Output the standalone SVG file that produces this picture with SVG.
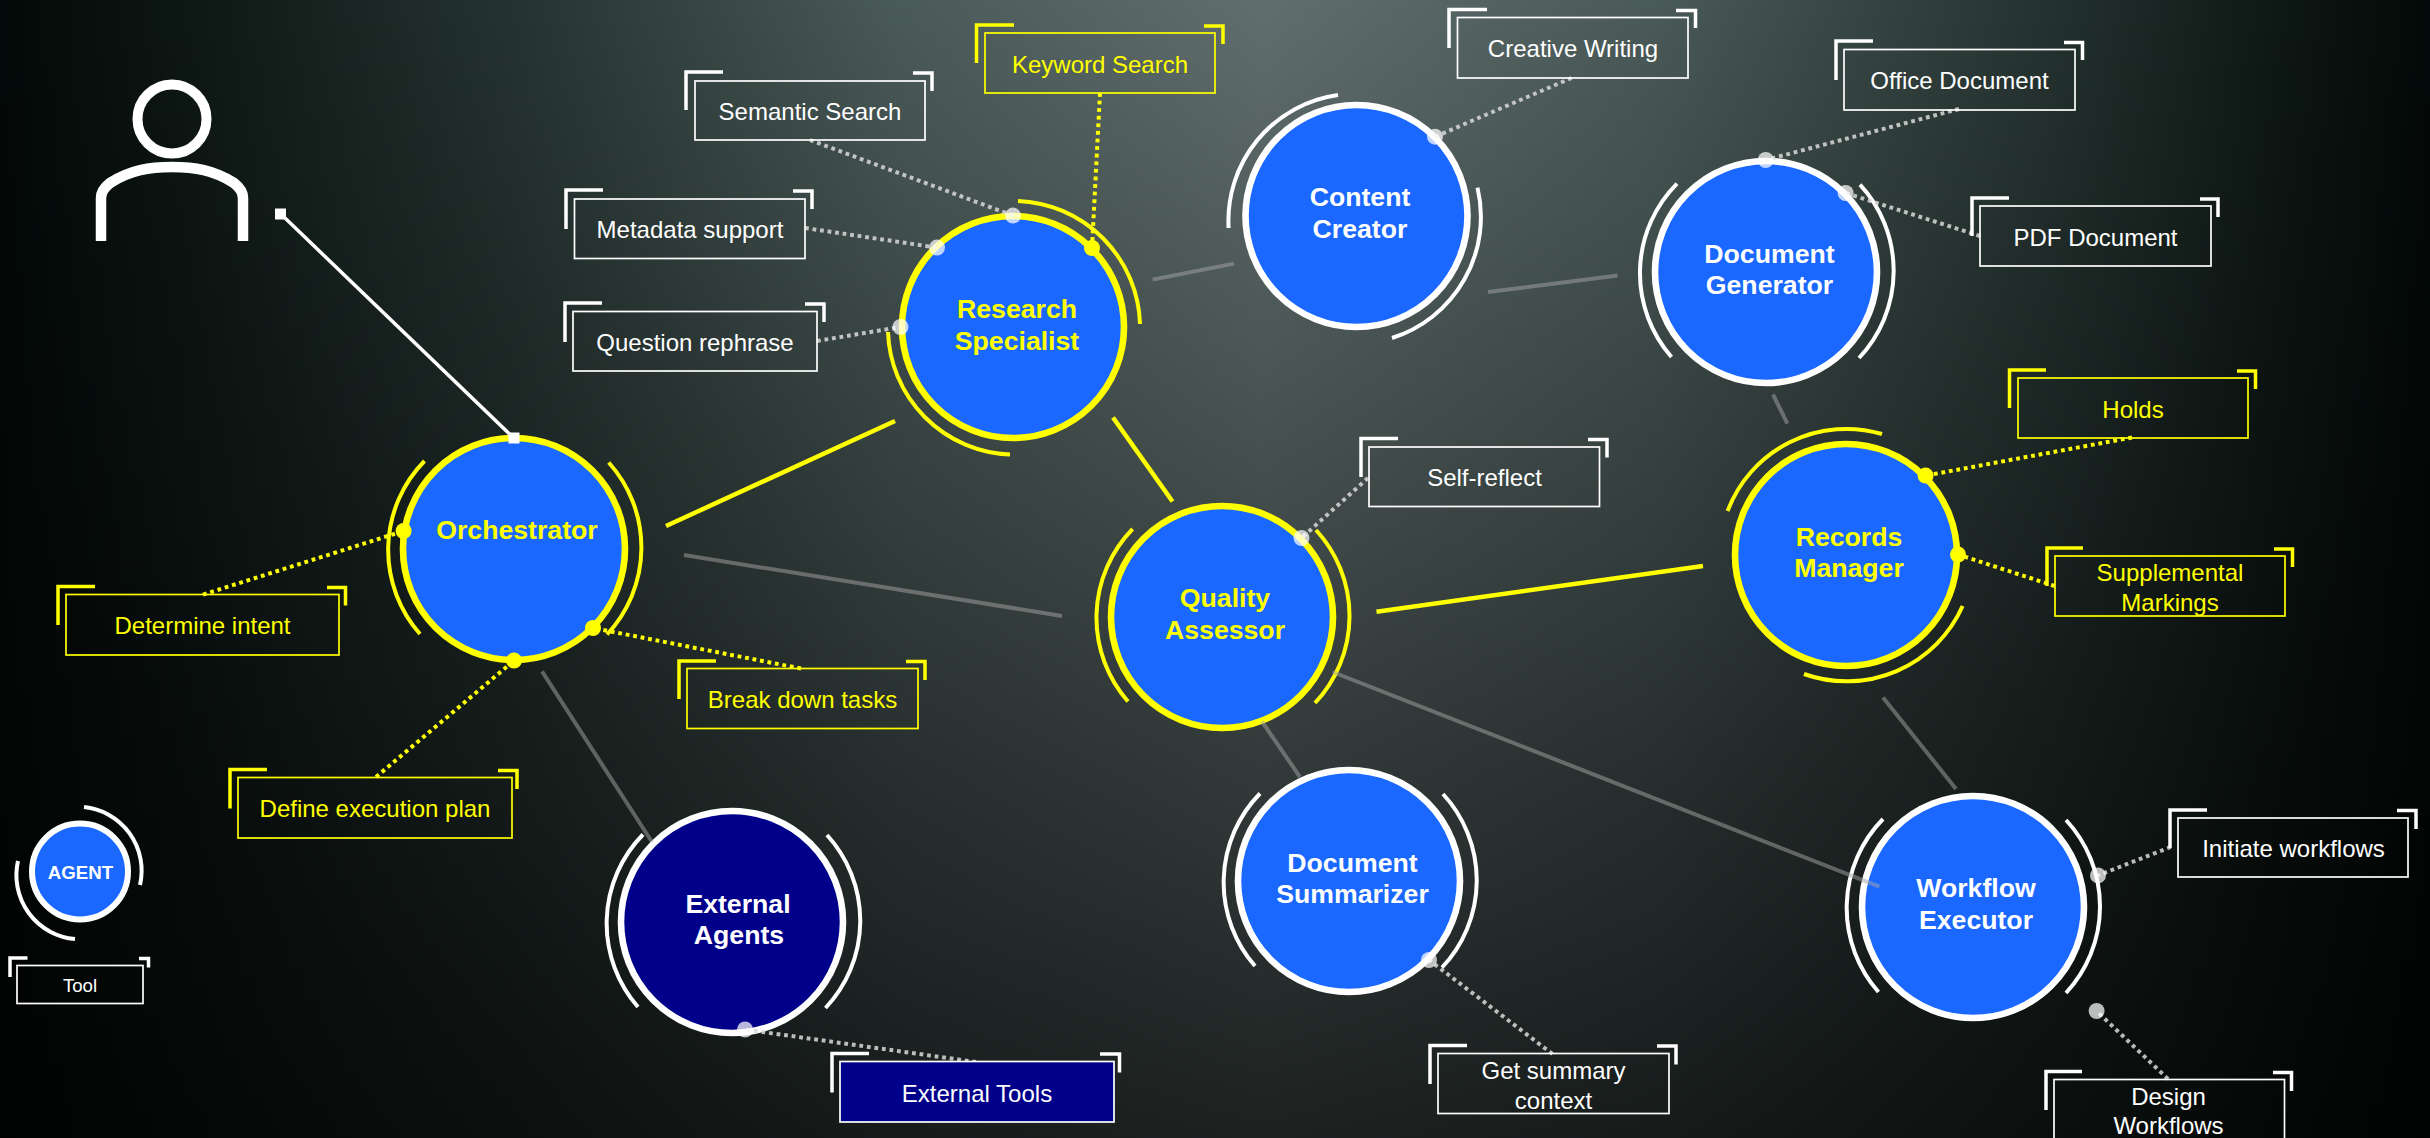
<svg xmlns="http://www.w3.org/2000/svg" width="2430" height="1138" viewBox="0 0 2430 1138">
<style>
text{font-family:"Liberation Sans",Arial,sans-serif;text-anchor:middle}
.n{font-size:26.67px;font-weight:bold}
.l{font-size:24px}
.w{fill:#fff}.y{fill:#ff0}
.cw{fill:#1a68ff;stroke:#fff;stroke-width:6.6}
.cy{fill:#1a68ff;stroke:#ff0;stroke-width:6.6}
.aw{fill:none;stroke:#fff;stroke-width:4}
.ay{fill:none;stroke:#ff0;stroke-width:4}
.bw{fill:none;stroke:#fff;stroke-width:1.7}
.by{fill:none;stroke:#ff0;stroke-width:1.7}
.kw{fill:none;stroke:#fff;stroke-width:3.5}
.ky{fill:none;stroke:#ff0;stroke-width:3.5}
.dw{stroke:#d9d9d9;stroke-width:4;stroke-dasharray:3.8 3.8;opacity:.85}
.dy{stroke:#ff0;stroke-width:4;stroke-dasharray:3.8 3.8}
.sy{stroke:#ff0;stroke-width:4.5}
.sg{stroke:#a6a6a6;stroke-width:4;opacity:.5}
.pw{fill:#fff;opacity:.72}
.py{fill:#ff0}
</style>
<defs>
<linearGradient id="bgx" x1="0" y1="0" x2="1" y2="0">
<stop offset="0" stop-color="#030908"/>
<stop offset=".076" stop-color="#0d1714"/>
<stop offset=".21" stop-color="#253330"/>
<stop offset=".37" stop-color="#4a5a58"/>
<stop offset=".52" stop-color="#606e6d"/>
<stop offset=".68" stop-color="#4a5a58"/>
<stop offset=".84" stop-color="#253330"/>
<stop offset=".94" stop-color="#0d1714"/>
<stop offset="1" stop-color="#030908"/>
</linearGradient>
<linearGradient id="bgy" x1="0" y1="0" x2="0" y2="1">
<stop offset="0" stop-color="#000" stop-opacity="0"/>
<stop offset="1" stop-color="#000" stop-opacity=".7"/>
</linearGradient>
</defs>
<rect id="background" width="2430" height="1138" fill="url(#bgx)"/>
<rect id="background-shade" width="2430" height="1138" fill="url(#bgy)"/>

<g id="user" fill="none" stroke="#fff">
<circle cx="172" cy="119" r="34.5" stroke-width="10"/>
<path stroke-width="10.5" d="M101 241V198Q101 190 110 183C130 170 150 167 172 167C194 167 214 170 234 183Q243 190 243 198V241"/>
</g>

<g id="node-orchestrator">
<circle class="cy" cx="514" cy="549" r="111"/>
<path class="ay" d="M420 634A127 127 0 0 1 424.5 461M608.7 462.5A127 127 0 0 1 607 634.5"/>
<text class="n y" x="517" y="539">Orchestrator</text>
</g>
<g id="node-research">
<circle class="cy" cx="1013" cy="327" r="111"/>
<path class="ay" d="M1018 201A127 127 0 0 1 1140 324M1010 454.5A127 127 0 0 1 888 332"/>
<text class="n y" x="1017" y="317.5">Research</text>
<text class="n y" x="1017" y="349.5">Specialist</text>
</g>
<g id="node-content">
<circle class="cw" cx="1356.5" cy="216" r="111"/>
<path class="aw" d="M1228.6 228A127 127 0 0 1 1338 95M1477.5 187.6A127 127 0 0 1 1392 338"/>
<text class="n w" x="1360" y="206">Content</text>
<text class="n w" x="1360" y="238">Creator</text>
</g>
<g id="node-docgen">
<circle class="cw" cx="1766" cy="272" r="111"/>
<path class="aw" d="M1671.5 357A127 127 0 0 1 1677 183.6M1860 184.7A127 127 0 0 1 1859 358"/>
<text class="n w" x="1769.5" y="262.5">Document</text>
<text class="n w" x="1769.5" y="294">Generator</text>
</g>
<g id="node-records">
<circle class="cy" cx="1846" cy="555" r="111"/>
<path class="ay" d="M1727.6 511A127 127 0 0 1 1882 434M1962.6 606A127 127 0 0 1 1804 674"/>
<text class="n y" x="1849" y="545.5">Records</text>
<text class="n y" x="1849" y="577">Manager</text>
</g>
<g id="node-quality">
<circle class="cy" cx="1222" cy="617" r="111"/>
<path class="ay" d="M1128 701.5A127 127 0 0 1 1132.6 529M1316 530A127 127 0 0 1 1315 703"/>
<text class="n y" x="1225" y="607">Quality</text>
<text class="n y" x="1225" y="639">Assessor</text>
</g>
<g id="node-summarizer">
<circle class="cw" cx="1349" cy="881" r="111"/>
<path class="aw" d="M1255 966A127 127 0 0 1 1260 793.5M1443 794A127 127 0 0 1 1442 967.5"/>
<text class="n w" x="1352.5" y="871.5">Document</text>
<text class="n w" x="1352.5" y="903">Summarizer</text>
</g>
<g id="node-external">
<circle cx="732" cy="922" r="111" fill="#00008b" stroke="#fff" stroke-width="6.6"/>
<path class="aw" d="M638 1007A127 127 0 0 1 643 834.5M827 835A127 127 0 0 1 825.5 1008"/>
<text class="n w" x="738" y="912.5">External</text>
<text class="n w" x="739" y="944">Agents</text>
</g>
<g id="node-workflow">
<circle class="cw" cx="1973" cy="907" r="111"/>
<path class="aw" d="M1878.5 992A127 127 0 0 1 1883 819M2066 820A127 127 0 0 1 2066 993"/>
<text class="n w" x="1976" y="897">Workflow</text>
<text class="n w" x="1976" y="929">Executor</text>
</g>
<g id="legend-agent">
<circle cx="80" cy="871.5" r="48" fill="#1a68ff" stroke="#fff" stroke-width="6"/>
<path class="aw" d="M84 807A64 64 0 0 1 140 885M75 939A64 64 0 0 1 18 861"/>
<text x="80.5" y="879" font-size="18.67" font-weight="bold" fill="#fff">AGENT</text>
</g>

<g id="connectors" fill="none">
<path class="sy" d="M666 526L895 421M1113 417.5L1172.5 501.5M1376.5 611.7L1703 566"/>
<path class="sg" d="M1152.5 279.6L1234 263.6M1488 292L1617.5 275.6M1773 394.5L1787.4 423.6M684 555L1062 616M542 671.4L652 842M1262 721.5L1300 777M1332.6 672L1879.5 886.7M1883 697.5L1956 789"/>
<path stroke="#fff" stroke-width="3.5" d="M285 218L510 434.5"/>
<rect x="275" y="208.5" width="11" height="11" fill="#fff"/>
<rect x="508.5" y="432.5" width="11" height="11" fill="#fff"/>
<path class="dw" d="M810 140L1013 215.6M805 228L937 247.6M817 341L900.5 327M1571.5 78L1435 136.7M1959 109L1765.7 160M1980 236L1845.6 193M1368 478L1301.5 538M976 1062L745 1029.5M1552.5 1054L1429 960M2170.7 847L2098 875.4M2168 1079L2096.6 1011"/>
<path class="dy" d="M1100 93L1092 248M2132 437.5L1925.6 475.6M2054.7 586L1958 554.5M203 594.6L403.6 531M376 777L514 660.6M801 668.5L593 628"/>
<g class="pw">
<circle cx="1013" cy="215.6" r="8"/><circle cx="937" cy="247.6" r="8"/><circle cx="900.5" cy="327" r="8"/><circle cx="1435" cy="136.7" r="8"/><circle cx="1765.7" cy="160" r="8"/><circle cx="1845.6" cy="193" r="8"/><circle cx="1301.5" cy="538" r="8"/><circle cx="1429" cy="960" r="8"/><circle cx="745" cy="1029.5" r="8"/><circle cx="2098" cy="875.4" r="8"/><circle cx="2096.6" cy="1011" r="8"/>
</g>
<g class="py">
<circle cx="1092" cy="248" r="8"/><circle cx="1925.6" cy="475.6" r="8"/><circle cx="1958" cy="554.5" r="8"/><circle cx="403.6" cy="531" r="8"/><circle cx="514" cy="660.6" r="8"/><circle cx="593" cy="628" r="8"/>
</g>
</g>

<g id="label-semantic"><rect class="bw" x="695" y="81" width="230" height="59"/><path class="kw" d="M686 110V72H723M913 73H932V91"/><text class="l w" x="810" y="120">Semantic Search</text></g>
<g id="label-metadata"><rect class="bw" x="574.5" y="199" width="230.5" height="59.5"/><path class="kw" d="M566 229V190H603M793 191H812V209"/><text class="l w" x="690" y="238">Metadata support</text></g>
<g id="label-question"><rect class="bw" x="573" y="311.5" width="244" height="59.5"/><path class="kw" d="M565 342V303H602M805 304H824V322"/><text class="l w" x="695" y="351">Question rephrase</text></g>
<g id="label-keyword"><rect class="by" x="985" y="33" width="230" height="60"/><path class="ky" d="M976.5 63V25H1014M1204 26H1223V44"/><text class="l y" x="1100" y="72.5">Keyword Search</text></g>
<g id="label-creative"><rect class="bw" x="1457.5" y="17.5" width="230.5" height="60.5"/><path class="kw" d="M1449 48V9.5H1487M1676 10.5H1695.5V28"/><text class="l w" x="1573" y="57">Creative Writing</text></g>
<g id="label-office"><rect class="bw" x="1844" y="49.5" width="231" height="60.5"/><path class="kw" d="M1836 80V41H1873M2064 42.5H2082.5V60"/><text class="l w" x="1959.5" y="89">Office Document</text></g>
<g id="label-pdf"><rect class="bw" x="1980" y="206" width="231" height="60"/><path class="kw" d="M1972 236V198H2009M2200 199H2218V217"/><text class="l w" x="2095.5" y="245.5">PDF Document</text></g>
<g id="label-self"><rect class="bw" x="1369" y="447" width="230.5" height="59.5"/><path class="kw" d="M1361 477V438.5H1398M1588 439.5H1607V457.5"/><text class="l w" x="1484.5" y="486">Self-reflect</text></g>
<g id="label-holds"><rect class="by" x="2018" y="378" width="230" height="60"/><path class="ky" d="M2009.5 408V370H2046M2237 371H2255.5V389"/><text class="l y" x="2133" y="417.5">Holds</text></g>
<g id="label-supplemental"><rect class="by" x="2055" y="556" width="230" height="60"/><path class="ky" d="M2047 586V548H2083M2274 549H2292.5V567"/><text class="l y" x="2170" y="581">Supplemental</text><text class="l y" x="2170" y="610.5">Markings</text></g>
<g id="label-determine"><rect class="by" x="66" y="594.5" width="273" height="60.5"/><path class="ky" d="M58 625V586.5H95M327 587.5H345.5V605.5"/><text class="l y" x="202.5" y="634">Determine intent</text></g>
<g id="label-define"><rect class="by" x="238" y="777.5" width="274" height="60.5"/><path class="ky" d="M230 808.5V769.5H267M498 770.5H517V789"/><text class="l y" x="375" y="817">Define execution plan</text></g>
<g id="label-break"><rect class="by" x="687" y="668.5" width="231" height="60"/><path class="ky" d="M679 699V661H716M906 661.5H925V680"/><text class="l y" x="802.5" y="708">Break down tasks</text></g>
<g id="label-external-tools"><rect x="840" y="1061.5" width="274" height="60.5" fill="#00008b" stroke="#fff" stroke-width="1.7"/><path class="kw" d="M832 1092.5V1053.5H869M1100 1054H1119.5V1072.5"/><text class="l w" x="977" y="1101.5">External Tools</text></g>
<g id="label-summary"><rect class="bw" x="1438" y="1053.5" width="231" height="60"/><path class="kw" d="M1430 1084V1045.5H1467M1657 1046H1676V1064.5"/><text class="l w" x="1553.5" y="1079">Get summary</text><text class="l w" x="1553.5" y="1109">context</text></g>
<g id="label-initiate"><rect class="bw" x="2178" y="818" width="230" height="59"/><path class="kw" d="M2170 848V810H2207M2397 810.5H2416V829"/><text class="l w" x="2293.5" y="857">Initiate workflows</text></g>
<g id="label-design"><rect class="bw" x="2054" y="1079.5" width="230.5" height="70"/><path class="kw" d="M2046 1110V1071.5H2082M2273 1072.5H2291.5V1091"/><text class="l w" x="2168.5" y="1105">Design</text><text class="l w" x="2168.5" y="1134">Workflows</text></g>
<g id="legend-tool"><rect class="bw" x="17" y="965.5" width="126" height="38"/><path class="kw" d="M10 977V958H27.5M139 958.5H148.5V967.5"/><text x="80" y="992" font-size="18.67" fill="#fff">Tool</text></g>
</svg>
